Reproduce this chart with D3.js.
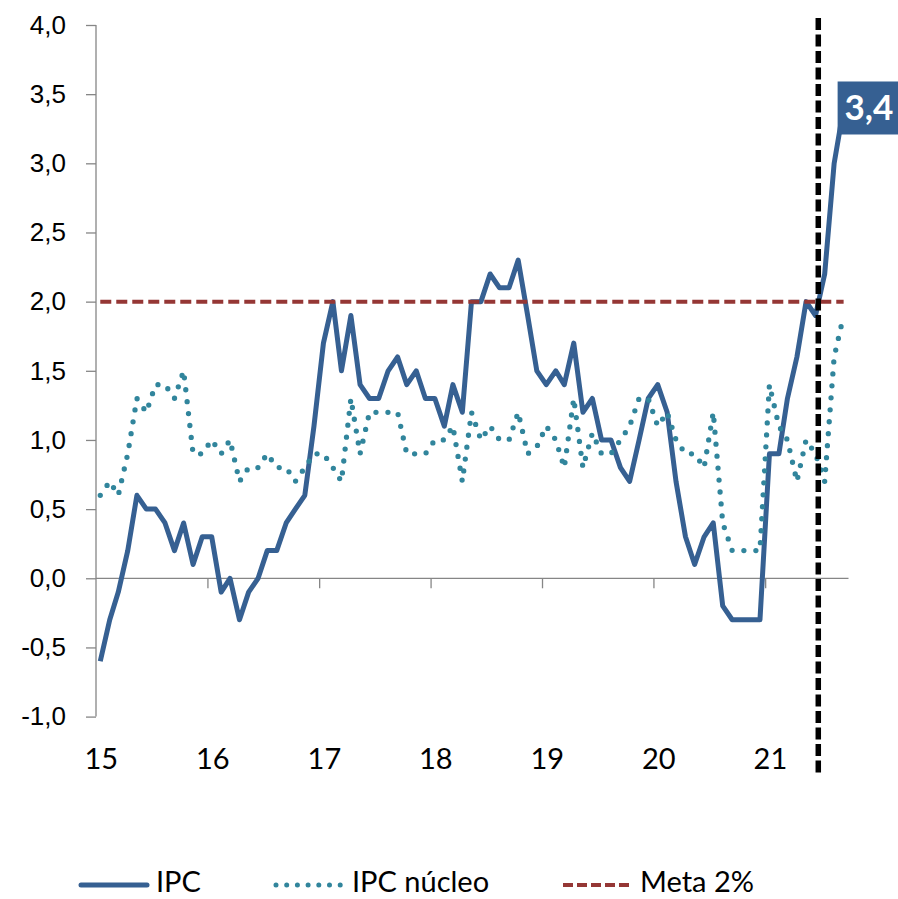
<!DOCTYPE html>
<html>
<head>
<meta charset="utf-8">
<script src="https://cdn.jsdelivr.net/npm/d3@7"></script>
<style>
  body { margin: 0; background: #fff; }
  svg { display: block; font-family: "Lato", "Open Sans", sans-serif; }
  .axis path, .axis line { stroke: #868686; stroke-width: 1.3; }
  .axis text { fill: #000; font-size: 26px; }
</style>
</head>
<body>
<svg class="chart" width="898" height="899"></svg>
<script>
var width = 898;
var height = 899;

// monthly data, Jan 2015 .. Sep 2021
var startYear = 2015;
var ipc = [
  -0.6, -0.3, -0.1, 0.2, 0.6, 0.5, 0.5, 0.4, 0.2, 0.4, 0.1, 0.3,
  0.3, -0.1, 0.0, -0.3, -0.1, 0.0, 0.2, 0.2, 0.4, 0.5, 0.6, 1.1,
  1.7, 2.0, 1.5, 1.9, 1.4, 1.3, 1.3, 1.5, 1.6, 1.4, 1.5, 1.3,
  1.3, 1.1, 1.4, 1.2, 2.0, 2.0, 2.2, 2.1, 2.1, 2.3, 1.9, 1.5,
  1.4, 1.5, 1.4, 1.7, 1.2, 1.3, 1.0, 1.0, 0.8, 0.7, 1.0, 1.3,
  1.4, 1.2, 0.7, 0.3, 0.1, 0.3, 0.4, -0.2, -0.3, -0.3, -0.3, -0.3,
  0.9, 0.9, 1.3, 1.6, 2.0, 1.9, 2.2, 3.0, 3.4
];
var ipcNucleo = [
  0.6, 0.7, 0.6, 0.9, 1.3, 1.2, 1.4, 1.4, 1.3, 1.5, 0.9, 0.9,
  1.0, 0.9, 1.0, 0.7, 0.8, 0.8, 0.9, 0.8, 0.8, 0.7, 0.8, 0.9,
  0.9, 0.8, 0.7, 1.3, 0.9, 1.2, 1.2, 1.2, 1.2, 0.9, 0.9, 0.9,
  1.0, 1.0, 1.1, 0.7, 1.2, 1.0, 1.1, 1.0, 1.0, 1.2, 0.9, 0.95,
  1.1, 1.0, 0.8, 1.3, 0.8, 1.05, 0.9, 0.9, 1.0, 1.1, 1.3, 1.3,
  1.1, 1.2, 1.0, 0.9, 0.9, 0.8, 1.2, 0.4, 0.2, 0.2, 0.2, 0.2,
  1.4, 1.1, 1.0, 0.7, 1.0, 0.9, 0.7, 1.6, 1.9
];
var meta = ipc.map(function() { return 2.0; });

var yTicks = [-1, -0.5, 0, 0.5, 1, 1.5, 2, 2.5, 3, 3.5, 4];
var yearLabels = ["15", "16", "17", "18", "19", "20", "21"];
var cutDate = new Date(2021, 5, 24);   // vertical marker
var lastLabel = "3,4";

var legendItems = [
  {name: "IPC", color: "#366092", dash: null, x: 79},
  {name: "IPC núcleo", color: "#31859c", dash: "0 10.7", x: 275},
  {name: "Meta 2%", color: "#953735", dash: "10 4", x: 563}
];

function monthDate(i) {
  return new Date(startYear, i, 15);
}

var svg = d3.select(".chart");

var x = d3.scaleTime()
    .domain([new Date(2015, 0, 1), new Date(2021, 9, 1)])
    .range([96, 848.5]);

var y = d3.scaleLinear()
    .domain([-1, 4])
    .range([716.6, 25]);

var fmt = function(d) { return d3.format(".1f")(d).replace(".", ",").replace("\u2212", "-"); };

// y axis
svg.append("g")
    .attr("class", "axis")
    .attr("transform", "translate(" + x.range()[0] + ",0)")
    .call(d3.axisLeft(y).tickValues(yTicks).tickSize(10).tickPadding(20).tickFormat(fmt))
    .call(function(g) { g.select(".domain").attr("d", "M0," + y(-1) + "V" + y(4)); });

// x axis at zero, labels at bottom
var yearStarts = yearLabels.map(function(d, i) { return new Date(startYear + i, 0, 1); });
svg.append("g")
    .attr("class", "axis")
    .attr("transform", "translate(0," + y(0) + ")")
    .call(d3.axisBottom(x).tickValues(yearStarts.slice(1)).tickSize(10).tickFormat(""))
    .call(function(g) { g.select(".domain").attr("d", "M" + x.range()[0] + ",0H" + x.range()[1]); });

svg.append("g")
    .selectAll("text")
    .data(yearLabels)
    .enter().append("text")
    .attr("x", function(d, i) { return x(new Date(startYear + i, 0, 15)) + 1; })
    .attr("y", y(-1) + 52)
    .attr("text-anchor", "middle")
    .style("font-size", "29px")
    .text(function(d) { return d; });

var line = d3.line()
    .x(function(d, i) { return x(monthDate(i)); })
    .y(function(d) { return y(d); });

svg.append("path")
    .datum(ipc)
    .attr("fill", "none")
    .attr("stroke", "#366092")
    .attr("stroke-width", 5)
    .attr("stroke-linejoin", "round")
    .attr("d", line);

svg.append("path")
    .datum(ipcNucleo)
    .attr("fill", "none")
    .attr("stroke", "#31859c")
    .attr("stroke-width", 5.3)
    .attr("stroke-linecap", "round")
    .attr("stroke-dasharray", "0 12")
    .attr("d", line);

svg.append("path")
    .datum(meta)
    .attr("fill", "none")
    .attr("stroke", "#953735")
    .attr("stroke-width", 4)
    .attr("stroke-dasharray", "11 5")
    .attr("d", line);

// vertical marker
svg.append("line")
    .attr("x1", x(cutDate)).attr("x2", x(cutDate))
    .attr("y1", y(4) - 7).attr("y2", y(-1) + 58)
    .attr("stroke", "#000")
    .attr("stroke-width", 5.5)
    .attr("stroke-dasharray", "12 4.5");

// last value label
var last = ipc.length - 1;
var lx = x(monthDate(last)) - 6, ly = y(ipc[last]);
svg.append("rect")
    .attr("x", lx).attr("y", ly - 26.5)
    .attr("width", width - lx).attr("height", 53)
    .attr("fill", "#366092");
svg.append("text")
    .attr("x", lx + (width - lx) / 2 + 1)
    .attr("y", ly + 12.5)
    .attr("text-anchor", "middle")
    .attr("fill", "#fff")
    .style("font-size", "35px")
    .style("font-weight", "bold")
    .text(lastLabel);

// legend
var lg = svg.append("g").attr("transform", "translate(0,885)");
legendItems.forEach(function(d) {
  var s = lg.append("line")
      .attr("x1", d.x).attr("x2", d.x + 70)
      .attr("stroke", d.color)
      .attr("stroke-width", d.name == "Meta 2%" ? 4 : 5);
  if (d.name == "IPC") s.attr("stroke-linecap", "round").attr("x1", d.x + 2).attr("x2", d.x + 68);
  if (d.name == "IPC núcleo") s.attr("stroke-linecap", "round").attr("x1", d.x + 1).attr("x2", d.x + 66);
  if (d.dash) s.attr("stroke-dasharray", d.dash);
  lg.append("text")
      .attr("x", d.x + 77)
      .attr("y", 7)
      .style("font-size", "29px")
      .text(d.name);
});
</script>
</body>
</html>
